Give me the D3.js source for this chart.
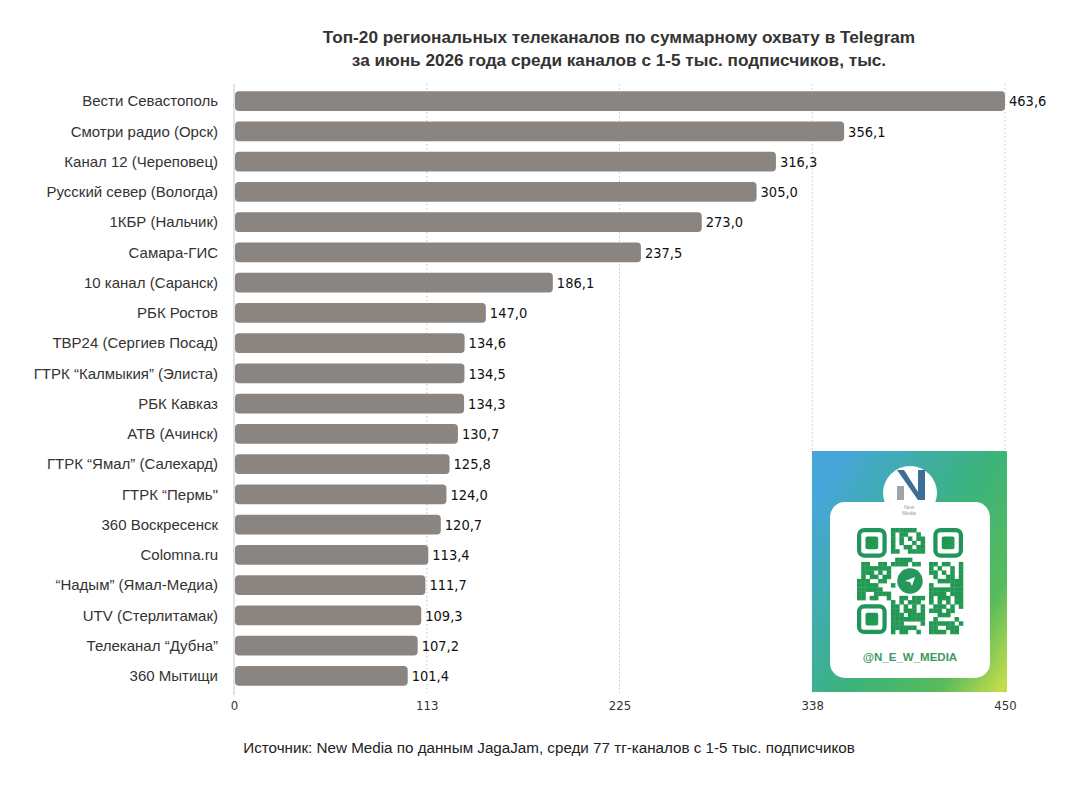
<!DOCTYPE html>
<html>
<head>
<meta charset="utf-8">
<script src="https://cdn.jsdelivr.net/npm/d3@7"></script>
<style>
  body { margin: 0; background: #fff; }
  svg { display: block; }
</style>
</head>
<body>
<div id="chart"></div>
<script>
var w = 1080,
    h = 800;

// data
var channels = ["Вести Севастополь", "Смотри радио (Орск)", "Канал 12 (Череповец)", "Русский север (Вологда)",
  "1КБР (Нальчик)", "Самара-ГИС", "10 канал (Саранск)", "РБК Ростов", "ТВР24 (Сергиев Посад)",
  "ГТРК “Калмыкия” (Элиста)", "РБК Кавказ", "АТВ (Ачинск)", "ГТРК “Ямал” (Салехард)", "ГТРК “Пермь\"",
  "360 Воскресенск", "Colomna.ru", "“Надым” (Ямал-Медиа)", "UTV (Стерлитамак)", "Телеканал “Дубна”", "360 Мытищи"];
var reach = [463.6, 356.1, 316.3, 305.0, 273.0, 237.5, 186.1, 147.0, 134.6, 134.5,
  134.3, 130.7, 125.8, 124.0, 120.7, 113.4, 111.7, 109.3, 107.2, 101.4];
var tickValues = [0, 112.5, 225, 337.5, 450];
var tickLabels = ["0", "113", "225", "338", "450"];

var title = ["Топ-20 региональных телеканалов по суммарному охвату в Telegram",
  "за июнь 2026 года среди каналов с 1-5 тыс. подписчиков, тыс."];
var source = "Источник: New Media по данным JagaJam, среди 77 тг-каналов с 1-5 тыс. подписчиков";

var svg = d3.select("#chart")
  .append("svg")
  .attr("width", w)
  .attr("height", h);

var x = d3.scaleLinear().domain([0, 450]).range([234, 1005]).clamp(true);
var y = d3.scaleBand().domain(channels).range([86, 691]).paddingInner(0.34).paddingOuter(0.17);

// title
svg.selectAll(".title")
  .data(title)
  .enter()
  .append("text")
  .attr("x", 619)
  .attr("y", function(d, i) { return 43 + i * 23; })
  .attr("text-anchor", "middle")
  .attr("font-family", "Liberation Sans, Arial, sans-serif")
  .attr("font-size", "17.2px")
  .attr("font-weight", "bold")
  .attr("fill", "#333")
  .text(function(d) { return d; });

// grid lines
svg.selectAll(".grid")
  .data(tickValues.slice(1))
  .enter()
  .append("line")
  .attr("x1", function(d) { return x(d); })
  .attr("x2", function(d) { return x(d); })
  .attr("y1", 84)
  .attr("y2", 693)
  .attr("stroke", "#c8c8c8")
  .attr("stroke-width", 1)
  .attr("stroke-dasharray", "1.5,2.5");

svg.append("line")
  .attr("x1", x(0)).attr("x2", x(0))
  .attr("y1", 84).attr("y2", 695)
  .attr("stroke", "#d0d0d0")
  .attr("stroke-width", 1.2);

// x axis labels
var xAxis = d3.axisBottom(x)
  .tickValues(tickValues)
  .tickSize(0)
  .tickPadding(0)
  .tickFormat(function(d, i) { return tickLabels[i]; });

var gx = svg.append("g")
  .attr("transform", "translate(0,701)")
  .call(xAxis);
gx.select(".domain").remove();
gx.selectAll("text")
  .attr("dy", "0.71em")
  .attr("font-family", "DejaVu Sans Condensed, DejaVu Sans, sans-serif")
  .attr("font-stretch", "condensed")
  .attr("font-size", "13px")
  .attr("fill", "#333");

// bars
svg.selectAll(".bar")
  .data(reach)
  .enter()
  .append("rect")
  .attr("class", "bar")
  .attr("x", x(0) + 1)
  .attr("y", function(d, i) { return y(channels[i]); })
  .attr("width", function(d) { return x(d) - x(0) - 1; })
  .attr("height", y.bandwidth())
  .attr("rx", 4)
  .attr("fill", "#8a8581");

// category labels
svg.selectAll(".cat")
  .data(channels)
  .enter()
  .append("text")
  .attr("x", 218)
  .attr("y", function(d) { return y(d) + y.bandwidth() / 2; })
  .attr("dy", "0.35em")
  .attr("text-anchor", "end")
  .attr("font-family", "Liberation Sans, Arial, sans-serif")
  .attr("font-size", "15px")
  .attr("fill", "#333")
  .text(function(d) { return d; });

// value labels
svg.selectAll(".val")
  .data(reach)
  .enter()
  .append("text")
  .attr("x", function(d) { return x(d) + 4; })
  .attr("y", function(d, i) { return y(channels[i]) + y.bandwidth() / 2; })
  .attr("dy", "0.36em")
  .attr("font-family", "DejaVu Sans Condensed, DejaVu Sans, sans-serif")
  .attr("font-stretch", "condensed")
  .attr("font-size", "14.5px")
  .attr("fill", "#111")
  .text(function(d) { return d.toFixed(1).replace(".", ","); });

// source
svg.append("text")
  .attr("x", 549)
  .attr("y", 753)
  .attr("text-anchor", "middle")
  .attr("font-family", "Liberation Sans, Arial, sans-serif")
  .attr("font-size", "15.2px")
  .attr("fill", "#222")
  .text(source);

// QR card (decoration)
var defs = svg.append("defs");
var bg = defs.append("linearGradient").attr("id", "cardbg")
  .attr("x1", 0).attr("y1", 0.2).attr("x2", 1).attr("y2", 0.95);
bg.append("stop").attr("offset", 0).attr("stop-color", "#46a6dc");
bg.append("stop").attr("offset", 0.5).attr("stop-color", "#3bb37c");
bg.append("stop").attr("offset", 0.8).attr("stop-color", "#58bb5a");
bg.append("stop").attr("offset", 1).attr("stop-color", "#c4dc4c");
var qg = defs.append("linearGradient").attr("id", "qrfill")
  .attr("x1", 0).attr("y1", 0).attr("x2", 1).attr("y2", 1);
qg.append("stop").attr("offset", 0).attr("stop-color", "#1e8f5c");
qg.append("stop").attr("offset", 1).attr("stop-color", "#27a24a");

var card = svg.append("g");
card.append("rect")
  .attr("x", 812).attr("y", 451).attr("width", 195).attr("height", 241)
  .attr("fill", "url(#cardbg)");
card.append("rect")
  .attr("x", 830).attr("y", 502).attr("width", 160).attr("height", 176)
  .attr("rx", 15).attr("fill", "#fff");
card.append("circle")
  .attr("cx", 910).attr("cy", 493).attr("r", 27).attr("fill", "#fff");

// logo
card.append("path")
  .attr("d", "M897,470 L904,470 L918,492 L918,470 L925,470 L925,500 L918,500 L904,480 Z")
  .attr("fill", "#3d6e96");
card.append("rect").attr("x", 897).attr("y", 486).attr("width", 7).attr("height", 14).attr("fill", "#9ea5ab");
card.append("text")
  .attr("x", 909).attr("y", 509).attr("text-anchor", "middle")
  .attr("font-family", "Liberation Sans, Arial, sans-serif")
  .attr("font-size", "5px").attr("fill", "#999")
  .text("New");
card.append("text")
  .attr("x", 909).attr("y", 515).attr("text-anchor", "middle")
  .attr("font-family", "Liberation Sans, Arial, sans-serif")
  .attr("font-size", "5px").attr("fill", "#999")
  .text("Media");

// qr pattern
var n = 25, qx = 857, qy = 528, cell = 106 / n;
var cells = [];
for (var r = 0; r < n; r++) {
  for (var c = 0; c < n; c++) {
    var inFinder = (r < 8 && c < 8) || (r < 8 && c >= n - 8) || (r >= n - 8 && c < 8);
    var inCenter = Math.abs(r - 12) < 4 && Math.abs(c - 12) < 4;
    if (inFinder || inCenter) continue;
    var hsh = ((r * 73 + c * 151 + r * c * 17) % 23);
    if (hsh % 2 === 0 || hsh % 5 === 0) cells.push([r, c]);
  }
}
var qr = card.append("g").attr("fill", "url(#qrfill)");
qr.selectAll(".m")
  .data(cells)
  .enter()
  .append("rect")
  .attr("x", function(d) { return qx + d[1] * cell; })
  .attr("y", function(d) { return qy + d[0] * cell; })
  .attr("width", cell + 0.3)
  .attr("height", cell + 0.3);
[[0, 0], [0, n - 7], [n - 7, 0]].forEach(function(p) {
  var fx = qx + p[1] * cell, fy = qy + p[0] * cell;
  qr.append("rect").attr("x", fx + cell / 2).attr("y", fy + cell / 2)
    .attr("width", cell * 6).attr("height", cell * 6).attr("rx", 5)
    .attr("fill", "none").attr("stroke", "#1f955a").attr("stroke-width", cell);
  qr.append("rect").attr("x", fx + cell * 2).attr("y", fy + cell * 2)
    .attr("width", cell * 3).attr("height", cell * 3).attr("rx", 2);
});
card.append("circle").attr("cx", qx + 12.5 * cell).attr("cy", qy + 12.5 * cell)
  .attr("r", cell * 3).attr("fill", "#23985a");
card.append("path")
  .attr("transform", "translate(" + (qx + 12.5 * cell) + "," + (qy + 12.5 * cell) + ")")
  .attr("d", "M-5,0 L5,-4 L2,5 L0,1 Z")
  .attr("fill", "#fff");

card.append("text")
  .attr("x", 910).attr("y", 661).attr("text-anchor", "middle")
  .attr("font-family", "Liberation Sans, Arial, sans-serif")
  .attr("font-size", "11.5px").attr("font-weight", "bold")
  .attr("fill", "#3a9a62")
  .text("@N_E_W_MEDIA");
</script>
</body>
</html>
